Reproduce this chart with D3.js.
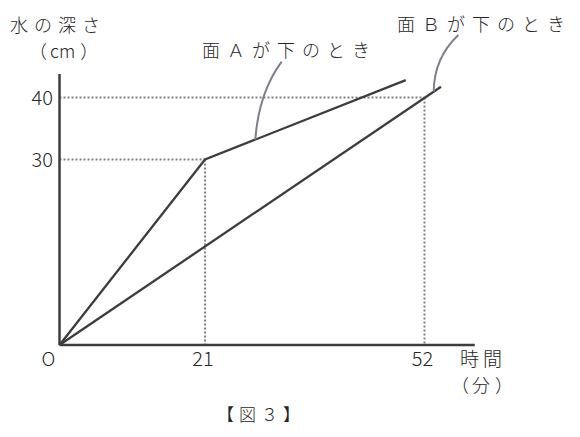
<!DOCTYPE html>
<html><head><meta charset="utf-8">
<script src="https://cdn.jsdelivr.net/npm/d3@7"></script>
<style>
html,body{margin:0;padding:0;background:#fff;}
svg{display:block;}
text{font-family:"Noto Sans CJK JP","Noto Sans",sans-serif;fill:#262626;font-weight:300;}
</style></head>
<body>
<script>
// Data (minutes, cm)
const faceA = [[0, 0], [21, 30], [49.35, 42.8]];
const faceB = [[0, 0], [54.33, 41.74]];
const xTicks = [21, 52];
const yTicks = [30, 40];
const xTickLabels = ["21", "52"];
const yTickLabels = ["30", "40"];
const labelA = "面Ａが下のとき";
const labelB = "面Ｂが下のとき";
const yTitle = ["水の深さ", "（", "cm", "）"];
const xTitle = ["時間", "（", "分", "）"];
const caption = "【図３】";
const xMax = 59.1, yMax = 43.8;

const W = 580, H = 437;
const svg = d3.select("body").append("svg").attr("width", W).attr("height", H);

const x = d3.scaleLinear().domain([0, 21, 52]).range([59.5, 205, 424.5]);
const y = d3.scaleLinear().domain([0, 30, 40]).range([345, 159.5, 97.5]);

const lineColor = "#3d3d3d";
const dotColor = "#808080";

// dotted guides
yTicks.forEach((v, i) => {
  const xv = xTicks[i];
  svg.append("line").attr("x1", x(0)).attr("x2", x(xv)).attr("y1", y(v)).attr("y2", y(v))
    .attr("stroke", dotColor).attr("stroke-width", 2).attr("stroke-dasharray", "2,2");
  svg.append("line").attr("x1", x(xv)).attr("x2", x(xv)).attr("y1", y(v)).attr("y2", y(0))
    .attr("stroke", dotColor).attr("stroke-width", 2).attr("stroke-dasharray", "2,2");
});

// axes
svg.append("line").attr("x1", x(0)).attr("x2", x(0)).attr("y1", y(0)).attr("y2", y(yMax))
  .attr("stroke", lineColor).attr("stroke-width", 2.5);
svg.append("line").attr("x1", x(0)).attr("x2", x(xMax)).attr("y1", y(0)).attr("y2", y(0))
  .attr("stroke", lineColor).attr("stroke-width", 2.5);

// data lines
const line = d3.line().x(d => x(d[0])).y(d => y(d[1]));
[faceA, faceB].forEach(s => {
  svg.append("path").attr("d", line(s)).attr("fill", "none")
    .attr("stroke", lineColor).attr("stroke-width", 2.3).attr("stroke-linejoin", "miter");
});

// tick labels
xTicks.forEach((v, i) => {
  svg.append("text").attr("x", x(v) - 2).attr("y", 366).attr("text-anchor", "middle")
    .attr("font-size", 20).text(xTickLabels[i]);
});
yTicks.forEach((v, i) => {
  svg.append("text").attr("x", 53).attr("y", y(v) + 7.5).attr("text-anchor", "end")
    .attr("font-size", 20).text(yTickLabels[i]);
});
svg.append("text").attr("x", 48.5).attr("y", 366).attr("text-anchor", "middle")
  .attr("font-size", 19).text("O");

// axis titles
svg.append("text").attr("x", 10).attr("y", 32).attr("font-size", 18).attr("letter-spacing", 6).text(yTitle[0]);
const yt2 = svg.append("text").attr("x", 29).attr("y", 58).attr("font-size", 18);
yt2.append("tspan").text(yTitle[1]);
yt2.append("tspan").attr("dx", 3).text(yTitle[2]);
yt2.append("tspan").attr("dx", 5).text(yTitle[3]);

svg.append("text").attr("x", 460).attr("y", 366).attr("font-size", 19).attr("letter-spacing", 4).text(xTitle[0]);
const xt2 = svg.append("text").attr("x", 451).attr("y", 392).attr("font-size", 18);
xt2.append("tspan").text(xTitle[1]);
xt2.append("tspan").attr("dx", 3).text(xTitle[2]);
xt2.append("tspan").attr("dx", 5).text(xTitle[3]);

// series labels
svg.append("text").attr("x", 202).attr("y", 57).attr("font-size", 18).attr("letter-spacing", 7).text(labelA);
svg.append("text").attr("x", 397).attr("y", 31).attr("font-size", 18).attr("letter-spacing", 7).text(labelB);

// leader curves, anchored on the data lines
const leaderColor = "#7c8088";
function leader(p0, c, p1) {
  const p = d3.path();
  p.moveTo(p0[0], p0[1]);
  p.quadraticCurveTo(c[0], c[1], p1[0], p1[1]);
  svg.append("path").attr("d", p.toString()).attr("fill", "none")
    .attr("stroke", leaderColor).attr("stroke-width", 2);
}
const aT = 28.1, aV = 30 + (aT - 21) * (faceA[2][1] - 30) / (faceA[2][0] - 21);
const bT = 53.3, bV = bT * faceB[1][1] / faceB[1][0];
leader([281.7, 61.7], [259, 92], [x(aT), y(aV)]);
leader([458.3, 35], [434, 58], [x(bT), y(bV)]);

// caption
svg.append("text").attr("x", 217).attr("y", 421)
  .attr("font-size", 17).attr("letter-spacing", 5).text(caption);
</script>
</body></html>
